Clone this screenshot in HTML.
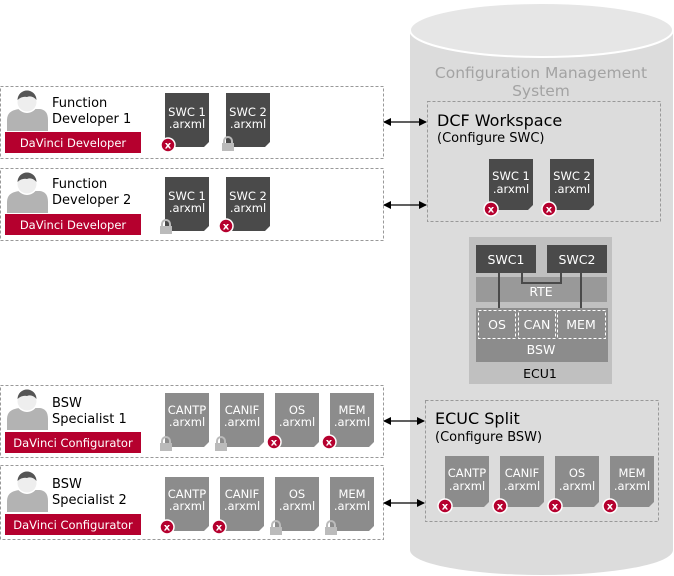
<!DOCTYPE html>
<html><head><meta charset="utf-8"><style>
html,body{margin:0;padding:0;background:#fff;}
svg{display:block;font-family:"DejaVu Sans","Liberation Sans",sans-serif;}
</style></head><body>
<svg width="674" height="576" viewBox="0 0 674 576" xmlns="http://www.w3.org/2000/svg">
<defs>
<path id="doc" d="M0,0H44V49L39,54H0Z"/>
<path id="docs" d="M0,0H44V46L39,51H0Z"/>
<g id="xb"><circle cx="0" cy="0" r="7" fill="#b5002e" stroke="#fff" stroke-width="1.5"/><text x="0" y="3.5" font-size="10" font-weight="bold" fill="#fff" text-anchor="middle">x</text></g>
<g id="lk"><path d="M-4,0V-3A4,4 0 0 1 4,-3V0" fill="none" stroke="#bbb" stroke-width="2"/><rect x="-6" y="-1" width="12" height="8" fill="#bbb"/></g>
<g id="person"><path d="M7,131V120Q7,110 20,109H40Q48,110 48,120V131Z" fill="#b3b3b3"/><circle cx="27" cy="102" r="11" fill="#fff"/><circle cx="27" cy="102" r="9.5" fill="#eee"/><path d="M17.5,100A9.5,9.5 0 0 1 36.5,100Q32,95 27,97Q22,96 17.5,100Z" fill="#555"/></g>
<marker id="ah" markerWidth="8" markerHeight="8" refX="7" refY="4" orient="auto-start-reverse" markerUnits="userSpaceOnUse"><path d="M0,0L8,4L0,8Z" fill="#000"/></marker>
</defs>

<path d="M410,30V550A131.5,25 0 0 0 673,550V30Z" fill="#dcdcdc"/>
<ellipse cx="541.5" cy="30" rx="131.5" ry="27" fill="#e6e6e6" stroke="#fff" stroke-width="2"/>
<text x="541" y="78" font-size="15.5" fill="#a3a3a3" text-anchor="middle">Configuration Management</text>
<text x="541" y="96" font-size="15.5" fill="#a3a3a3" text-anchor="middle">System</text>

<rect x="427.5" y="101.5" width="233" height="120" fill="none" stroke="#999" stroke-dasharray="3,2"/>
<text x="437" y="126" font-size="16" fill="#000">DCF Workspace</text>
<text x="437" y="142" font-size="13" fill="#000">(Configure SWC)</text>
<use href="#docs" x="489" y="159" fill="#4a4a4a"/>
<use href="#docs" x="550" y="159" fill="#4a4a4a"/>
<g font-size="11.5" fill="#fff" text-anchor="middle">
<text x="511" y="180">SWC 1</text><text x="511" y="193">.arxml</text>
<text x="572" y="180">SWC 2</text><text x="572" y="193">.arxml</text></g>
<use href="#xb" x="491" y="209"/><use href="#xb" x="549" y="209"/>

<rect x="469" y="237" width="143" height="147" fill="#c0c0c0"/>
<rect x="476" y="277" width="131" height="25" fill="#999"/>
<rect x="476" y="308" width="132" height="54" fill="#8c8c8c"/>
<rect x="476" y="245" width="60" height="28" fill="#4a4a4a"/>
<rect x="547" y="245" width="60" height="28" fill="#4a4a4a"/>
<text x="506" y="264" font-size="12.5" fill="#fff" text-anchor="middle">SWC1</text>
<text x="577" y="264" font-size="12.5" fill="#fff" text-anchor="middle">SWC2</text>
<path d="M522,273V283H561V273" fill="none" stroke="#4a4a4a" stroke-width="2"/>
<path d="M499,273V308M581,273V308" stroke="#4a4a4a" stroke-width="2"/>
<text x="541" y="296" font-size="12.5" fill="#fff" text-anchor="middle">RTE</text>
<rect x="478.5" y="310.5" width="37" height="28" fill="none" stroke="#fff" stroke-dasharray="3,2"/>
<rect x="518.5" y="310.5" width="37" height="28" fill="none" stroke="#fff" stroke-dasharray="3,2"/>
<rect x="557.5" y="310.5" width="48" height="28" fill="none" stroke="#fff" stroke-dasharray="3,2"/>
<text x="497" y="329" font-size="12.5" fill="#fff" text-anchor="middle">OS</text>
<text x="537" y="329" font-size="12.5" fill="#fff" text-anchor="middle">CAN</text>
<text x="581" y="329" font-size="12.5" fill="#fff" text-anchor="middle">MEM</text>
<text x="541" y="354" font-size="12.5" fill="#fff" text-anchor="middle">BSW</text>
<text x="540" y="378" font-size="12.5" fill="#000" text-anchor="middle">ECU1</text>

<rect x="425.5" y="400.5" width="233" height="121" fill="none" stroke="#999" stroke-dasharray="3,2"/>
<text x="435" y="424" font-size="16" fill="#000">ECUC Split</text>
<text x="435" y="441" font-size="13" fill="#000">(Configure BSW)</text>
<g font-size="11.5" fill="#fff" text-anchor="middle">
<use href="#docs" x="445" y="456" fill="#8c8c8c"/><use href="#docs" x="500" y="456" fill="#8c8c8c"/><use href="#docs" x="555" y="456" fill="#8c8c8c"/><use href="#docs" x="610" y="456" fill="#8c8c8c"/>
<text x="467" y="477">CANTP</text><text x="467" y="490">.arxml</text>
<text x="522" y="477">CANIF</text><text x="522" y="490">.arxml</text>
<text x="577" y="477">OS</text><text x="577" y="490">.arxml</text>
<text x="632" y="477">MEM</text><text x="632" y="490">.arxml</text>
</g>
<use href="#xb" x="445" y="506"/><use href="#xb" x="500" y="506"/><use href="#xb" x="555" y="506"/><use href="#xb" x="610" y="506"/>

<g stroke="#999" stroke-dasharray="3,2" fill="none">
<rect x="0.5" y="86.5" width="383" height="72"/>
<rect x="0.5" y="168.5" width="383" height="72"/>
<rect x="0.5" y="385.5" width="383" height="72"/>
<rect x="0.5" y="465.5" width="383" height="74"/>
</g>

<use href="#person"/>
<text x="52" y="107" font-size="13">Function</text>
<text x="52" y="123" font-size="13">Developer  1</text>
<rect x="5" y="132" width="136" height="21" fill="#b5002e"/>
<text x="73" y="147" font-size="11.5" fill="#fff" text-anchor="middle">DaVinci Developer</text>
<use href="#doc" x="165" y="93" fill="#4a4a4a"/><use href="#doc" x="226" y="93" fill="#4a4a4a"/>
<g font-size="11.5" fill="#fff" text-anchor="middle">
<text x="187" y="116">SWC 1</text><text x="187" y="128">.arxml</text>
<text x="248" y="116">SWC 2</text><text x="248" y="128">.arxml</text></g>
<use href="#xb" x="168" y="145"/><use href="#lk" x="228" y="144"/>

<use href="#person" y="82"/>
<text x="52" y="188" font-size="13">Function</text>
<text x="52" y="204" font-size="13">Developer  2</text>
<rect x="5" y="214" width="136" height="21" fill="#b5002e"/>
<text x="73" y="229" font-size="11.5" fill="#fff" text-anchor="middle">DaVinci Developer</text>
<use href="#doc" x="165" y="177" fill="#4a4a4a"/><use href="#doc" x="226" y="177" fill="#4a4a4a"/>
<g font-size="11.5" fill="#fff" text-anchor="middle">
<text x="187" y="200">SWC 1</text><text x="187" y="212">.arxml</text>
<text x="248" y="200">SWC 2</text><text x="248" y="212">.arxml</text></g>
<use href="#lk" x="166" y="227"/><use href="#xb" x="226" y="226"/>

<use href="#person" y="299"/>
<text x="52" y="407" font-size="13">BSW</text>
<text x="52" y="423" font-size="13">Specialist  1</text>
<rect x="5" y="432" width="136" height="21" fill="#b5002e"/>
<text x="73" y="447" font-size="11.5" fill="#fff" text-anchor="middle">DaVinci Configurator</text>
<use href="#doc" x="165" y="393" fill="#8c8c8c"/><use href="#doc" x="220" y="393" fill="#8c8c8c"/><use href="#doc" x="275" y="393" fill="#8c8c8c"/><use href="#doc" x="330" y="393" fill="#8c8c8c"/>
<g font-size="11.5" fill="#fff" text-anchor="middle">
<text x="187" y="414">CANTP</text><text x="187" y="426">.arxml</text>
<text x="242" y="414">CANIF</text><text x="242" y="426">.arxml</text>
<text x="297" y="414">OS</text><text x="297" y="426">.arxml</text>
<text x="352" y="414">MEM</text><text x="352" y="426">.arxml</text></g>
<use href="#lk" x="166" y="444"/><use href="#lk" x="221" y="444"/><use href="#xb" x="274" y="442"/><use href="#xb" x="329" y="442"/>

<use href="#person" y="381"/>
<text x="52" y="488" font-size="13">BSW</text>
<text x="52" y="504" font-size="13">Specialist  2</text>
<rect x="5" y="514" width="136" height="21" fill="#b5002e"/>
<text x="73" y="529" font-size="11.5" fill="#fff" text-anchor="middle">DaVinci Configurator</text>
<use href="#doc" x="165" y="477" fill="#8c8c8c"/><use href="#doc" x="220" y="477" fill="#8c8c8c"/><use href="#doc" x="275" y="477" fill="#8c8c8c"/><use href="#doc" x="330" y="477" fill="#8c8c8c"/>
<g font-size="11.5" fill="#fff" text-anchor="middle">
<text x="187" y="498">CANTP</text><text x="187" y="510">.arxml</text>
<text x="242" y="498">CANIF</text><text x="242" y="510">.arxml</text>
<text x="297" y="498">OS</text><text x="297" y="510">.arxml</text>
<text x="352" y="498">MEM</text><text x="352" y="510">.arxml</text></g>
<use href="#xb" x="167" y="527"/><use href="#xb" x="219" y="527"/><use href="#lk" x="276" y="528"/><use href="#lk" x="331" y="528"/>

<g stroke="#000" stroke-width="1.2" marker-start="url(#ah)" marker-end="url(#ah)">
<line x1="384" y1="122" x2="426" y2="122"/>
<line x1="384" y1="205" x2="426" y2="205"/>
<line x1="384" y1="421" x2="424" y2="421"/>
<line x1="384" y1="503" x2="424" y2="503"/>
</g>
</svg>
</body></html>
